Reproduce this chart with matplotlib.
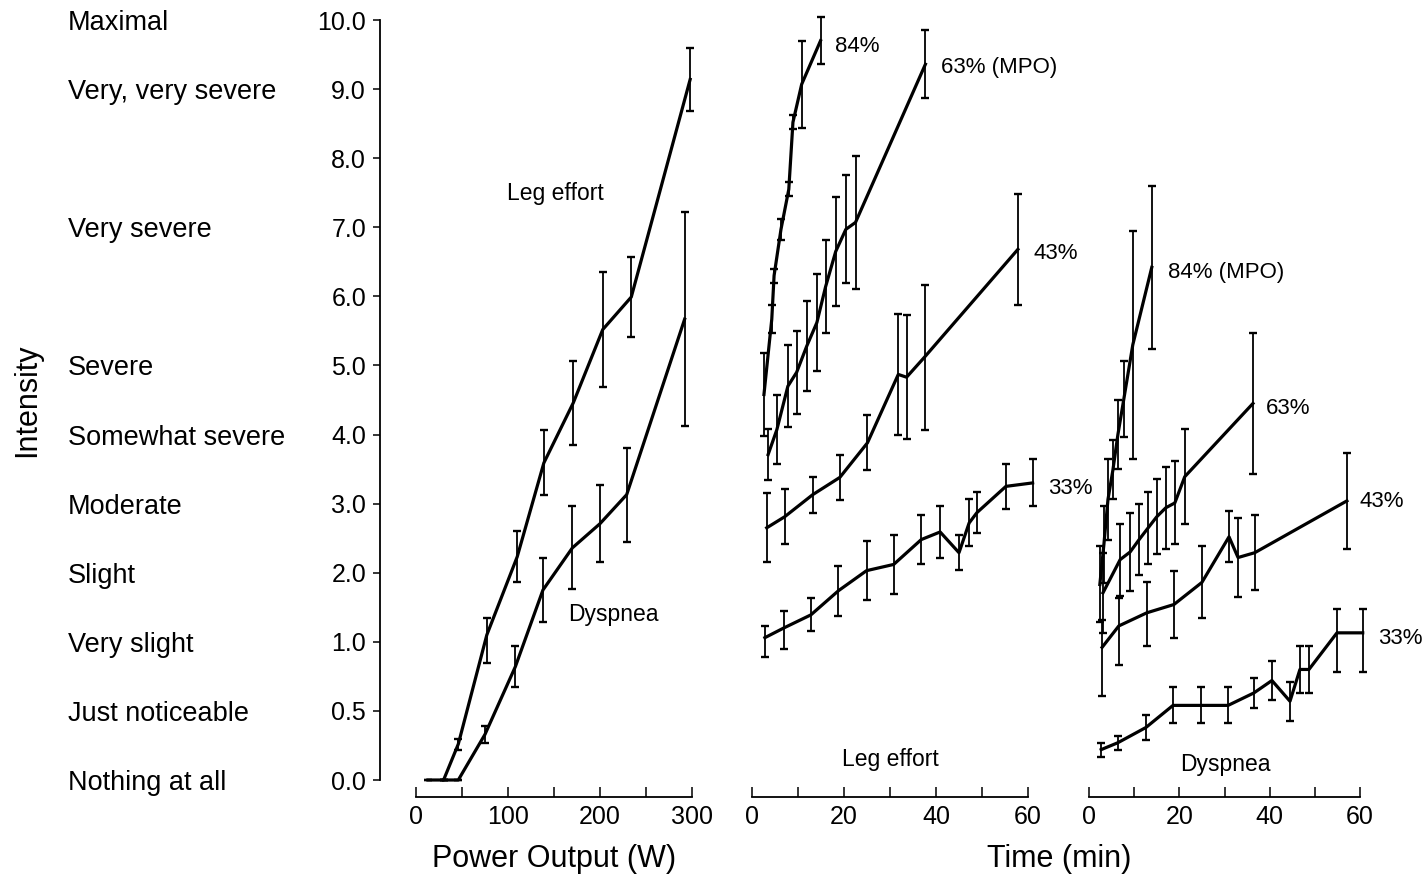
import numpy as np
import matplotlib
matplotlib.use("Agg")
import matplotlib.pyplot as plt
import matplotlib.transforms as mtransforms

plt.rcParams['font.family'] = ['Liberation Sans', 'DejaVu Sans']

# Borg CR10 scale: ticks and verbal anchors
y_ticks = [0, 0.5, 1, 2, 3, 4, 5, 6, 7, 8, 9, 10]
anchor_vals = [0, 0.5, 1, 2, 3, 4, 5, 7, 9, 10]
anchor_text = ["Nothing at all", "Just noticeable", "Very slight", "Slight", "Moderate",
               "Somewhat severe", "Severe", "Very severe", "Very, very severe", "Maximal"]

# incremental test (power output, W)
leg_pw_x = [13, 30, 46, 77, 110, 139, 171, 203, 234, 298]
leg_pw = [0, 0, 0.26, 1.1, 2.23, 3.59, 4.46, 5.52, 5.99, 9.14]
leg_pw_err = [0, 0, 0.04, 0.25, 0.37, 0.47, 0.61, 0.83, 0.58, 0.45]
dys_pw_x = [30, 46, 75, 108, 138, 170, 200, 229, 292]
dys_pw = [0, 0, 0.33, 0.82, 1.75, 2.36, 2.71, 3.13, 5.67]
dys_pw_err = [0, 0, 0.06, 0.15, 0.47, 0.6, 0.56, 0.68, 1.55]

# constant load, leg effort (min)
leg84_t = [2.6, 4.3, 4.8, 6.3, 8.0, 8.9, 10.8, 14.9]
leg84 = [4.58, 5.67, 6.30, 6.97, 7.55, 8.52, 9.07, 9.70]
leg84_err = [0.6, 0.2, 0.1, 0.15, 0.1, 0.1, 0.63, 0.34]
leg63_t = [3.5, 5.4, 7.8, 9.7, 11.9, 14.1, 16.0, 18.2, 20.4, 22.5, 37.7]
leg63 = [3.71, 4.07, 4.70, 4.90, 5.28, 5.62, 6.14, 6.65, 6.97, 7.07, 9.36]
leg63_err = [0.37, 0.5, 0.59, 0.6, 0.65, 0.7, 0.67, 0.79, 0.78, 0.96, 0.49]
leg43_t = [3.2, 7.1, 13.2, 19.1, 25.1, 31.8, 33.6, 37.5, 57.8]
leg43 = [2.65, 2.81, 3.13, 3.38, 3.88, 4.87, 4.83, 5.12, 6.68]
leg43_err = [0.5, 0.4, 0.26, 0.33, 0.4, 0.87, 0.9, 1.05, 0.8]
leg33_t = [2.8, 6.9, 12.8, 18.8, 24.9, 30.8, 36.8, 40.9, 45.0, 47.2, 48.9, 55.2, 61.0]
leg33 = [1.06, 1.20, 1.39, 1.74, 2.03, 2.12, 2.48, 2.59, 2.29, 2.72, 2.87, 3.25, 3.30]
leg33_err = [0.17, 0.25, 0.24, 0.36, 0.43, 0.43, 0.35, 0.37, 0.25, 0.34, 0.3, 0.33, 0.34]

# constant load, dyspnea (min)
dys84_t = [2.4, 3.3, 4.2, 5.3, 6.4, 7.7, 9.7, 13.9]
dys84 = [1.83, 2.41, 3.06, 3.49, 4.0, 4.51, 5.30, 6.42]
dys84_err = [0.55, 0.56, 0.58, 0.43, 0.5, 0.55, 1.65, 1.18]
dys63_t = [3.1, 6.9, 9.1, 11.1, 13.1, 15.0, 17.0, 19.0, 21.2, 36.3]
dys63 = [1.71, 2.19, 2.30, 2.48, 2.65, 2.81, 2.94, 3.01, 3.39, 4.45]
dys63_err = [0.58, 0.52, 0.56, 0.52, 0.52, 0.54, 0.59, 0.6, 0.69, 1.02]
dys43_t = [2.9, 6.6, 12.8, 18.8, 25.0, 31.0, 33.0, 36.7, 57.1]
dys43 = [0.96, 1.23, 1.42, 1.54, 1.86, 2.52, 2.22, 2.29, 3.04]
dys43_err = [0.35, 0.4, 0.45, 0.48, 0.52, 0.37, 0.57, 0.54, 0.7]
dys33_t = [2.7, 6.4, 12.6, 18.6, 24.8, 30.8, 36.5, 40.5, 44.5, 46.7, 48.7, 54.9, 60.6]
dys33 = [0.22, 0.27, 0.38, 0.54, 0.54, 0.54, 0.63, 0.72, 0.57, 0.80, 0.80, 1.13, 1.13]
dys33_err = [0.05, 0.05, 0.09, 0.13, 0.13, 0.13, 0.11, 0.14, 0.14, 0.17, 0.17, 0.35, 0.35]


# 0-1 gets the same spacing as each whole step above 1
def fwd(v):
    v = np.asarray(v, dtype=float)
    return np.where(v <= 1, 2 * v, v + 1)


def inv(p):
    p = np.asarray(p, dtype=float)
    return np.where(p <= 2, p / 2, p - 1)


W, H = 1428, 876
fig = plt.figure(figsize=(W / 100, H / 100), dpi=100)

y_bot_px, y_top_px = 797, 20
ax_b = (H - y_bot_px) / H
ax_h = (y_bot_px - y_top_px) / H

ax1 = fig.add_axes([380 / W, ax_b, 312 / W, ax_h])
ax2 = fig.add_axes([752 / W, ax_b, 276 / W, ax_h])
ax3 = fig.add_axes([1089 / W, ax_b, 271 / W, ax_h])

for ax in (ax1, ax2, ax3):
    ax.set_yscale('function', functions=(fwd, inv))
    ax.set_ylim(-0.123, 10)
    ax.spines['top'].set_visible(False)
    ax.spines['right'].set_visible(False)
    ax.spines['bottom'].set_linewidth(1.3)
    ax.spines['left'].set_linewidth(1.3)
    ax.tick_params(axis='x', which='both', direction='in', length=7.5, width=1.1,
                   labelsize=18, pad=6)
    ax.patch.set_visible(False)


def draw(ax, x, y, err):
    c = ax.errorbar(x, y, yerr=err, color='black', lw=2.3, elinewidth=1.3,
                    capsize=3, capthick=1.7)
    for a in c.get_children():
        a.set_clip_on(False)


# panel 1
ax1.set_xlim(-39.1, 300)
ax1.spines['bottom'].set_bounds(0, 300)
ax1.spines['left'].set_bounds(0, 10)
ax1.set_xticks([0, 100, 200, 300])
ax1.set_xticks([50, 150, 250], minor=True)
ax1.set_yticks(y_ticks)
ax1.set_yticklabels(['%.1f' % v for v in y_ticks])
ax1.yaxis.set_minor_locator(matplotlib.ticker.NullLocator())
ax1.tick_params(axis='y', direction='out', length=5, width=1.1, labelsize=18, pad=5)
draw(ax1, leg_pw_x, leg_pw, leg_pw_err)
draw(ax1, dys_pw_x, dys_pw, dys_pw_err)
ax1.text(151, 7.52, "Leg effort", fontsize=16.5, ha='center', va='center_baseline')
ax1.text(165, 1.43, "Dyspnea", fontsize=16.5, ha='left', va='center_baseline')

# panels 2 and 3
for ax in (ax2, ax3):
    ax.set_xlim(0, 60)
    ax.spines['left'].set_visible(False)
    ax.set_xticks([0, 20, 40, 60])
    ax.set_xticks([10, 30, 50], minor=True)
    ax.set_yticks([])
    ax.yaxis.set_minor_locator(matplotlib.ticker.NullLocator())

draw(ax2, leg84_t, leg84, leg84_err)
draw(ax2, leg63_t, leg63, leg63_err)
draw(ax2, leg43_t, leg43, leg43_err)
draw(ax2, leg33_t, leg33, leg33_err)
ax2.text(18.0, 9.65, "84%", fontsize=16, va='center_baseline')
ax2.text(41.1, 9.35, "63% (MPO)", fontsize=16, va='center_baseline')
ax2.text(61.1, 6.65, "43%", fontsize=16, va='center_baseline', clip_on=False)
ax2.text(64.3, 3.26, "33%", fontsize=16, va='center_baseline', clip_on=False)
ax2.text(30, 0.17, "Leg effort", fontsize=16.5, ha='center', va='center_baseline')

draw(ax3, dys84_t, dys84, dys84_err)
draw(ax3, dys63_t, dys63, dys63_err)
draw(ax3, dys43_t, dys43, dys43_err)
draw(ax3, dys33_t, dys33, dys33_err)
ax3.text(17.5, 6.38, "84% (MPO)", fontsize=16, va='center_baseline')
ax3.text(39.2, 4.42, "63%", fontsize=16, va='center_baseline')
ax3.text(60.0, 3.06, "43%", fontsize=16, va='center_baseline', clip_on=False)
ax3.text(64.0, 1.09, "33%", fontsize=16, va='center_baseline', clip_on=False)
ax3.text(30.1, 0.13, "Dyspnea", fontsize=16.5, ha='center', va='center_baseline')

# verbal anchors at the far left
trans = mtransforms.blended_transform_factory(fig.transFigure, ax1.transData)
for v, t in zip(anchor_vals, anchor_text):
    fig.text(68 / W, v, t, transform=trans, fontsize=19.5, ha='left',
             va='center_baseline')

fig.text(27 / W, (H - 400) / H, "Intensity", rotation=90, fontsize=22,
         ha='center', va='center')
fig.text(554 / W, (H - 859) / H, "Power Output (W)", fontsize=22, ha='center',
         va='center')
fig.text(1059 / W, (H - 859) / H, "Time (min)", fontsize=22, ha='center',
         va='center')

fig.savefig("out.png", dpi=100)
